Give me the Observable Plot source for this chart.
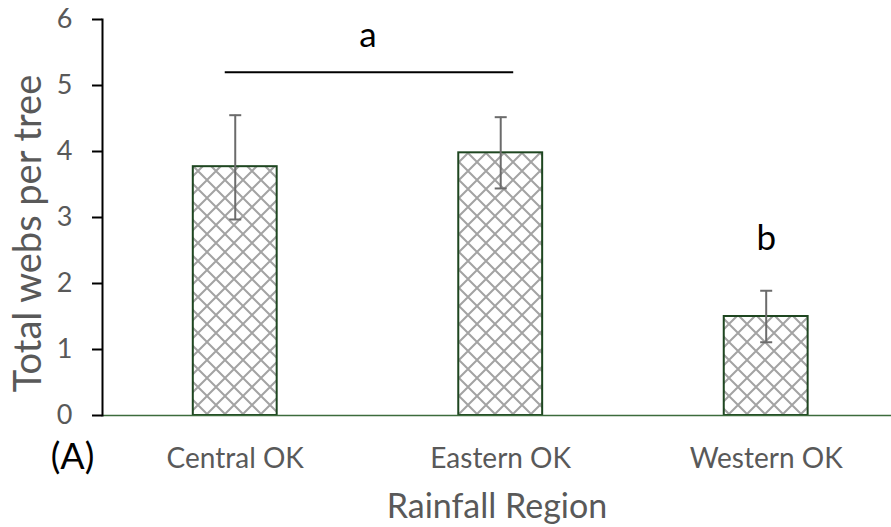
<!DOCTYPE html>
<html><head><meta charset="utf-8">
<script src="https://cdn.jsdelivr.net/npm/d3@7"></script>
<script src="https://cdn.jsdelivr.net/npm/@observablehq/plot@0.6"></script>
<style>body{margin:0;background:#fff} svg{display:block}</style>
</head><body><div id="chart"></div>
<script>
// ---- data ----
const regions = ["Central OK", "Eastern OK", "Western OK"];
const meanWebs = [3.77, 3.98, 1.50];
const errLow = [2.97, 3.44, 1.11];
const errHigh = [4.55, 4.52, 1.89];
const yTicks = [0, 1, 2, 3, 4, 5, 6];
// significance groups: letter, first and last member, bracket level, letter level
const sigLetters = ["a", "b"];
const sigFirst = ["Central OK", "Western OK"];
const sigLast = ["Eastern OK", "Western OK"];
const sigBracketY = [5.2, null];
const sigLetterY = [5.76, 2.68];
const panelLabel = "(A)";
const xTitle = "Rainfall Region";
const yTitle = "Total webs per tree";

// ---- derived tables ----
const bars = regions.map((r, i) => ({i, region: r, mean: meanWebs[i], lo: errLow[i], hi: errHigh[i]}));
const sig = sigLetters.map((l, k) => ({
  letter: l,
  a: regions.indexOf(sigFirst[k]),
  b: regions.indexOf(sigLast[k]),
  by: sigBracketY[k],
  ly: sigLetterY[k]
}));
const brackets = sig.filter(d => d.by != null && d.a !== d.b);

const halfBar = 0.158;   // bar half-width in category units
const grey = "#595959";
const font = "Lato, 'Open Sans', sans-serif";

const capSymbol = {draw(ctx, size) { const w = Math.sqrt(size / Math.PI); ctx.moveTo(-w, 0); ctx.lineTo(w, 0); }};

const defs = () => {
  const d = d3.create("svg:defs");
  const p = d.append("pattern").attr("id", "crosshatch").attr("patternUnits", "userSpaceOnUse")
    .attr("width", 18).attr("height", 18);
  p.append("rect").attr("width", 18).attr("height", 18).attr("fill", "white");
  p.append("path").attr("d", "M0,9L9,0L18,9L9,18Z").attr("fill", "none")
    .attr("stroke", "#a3a3a3").attr("stroke-width", 2);
  return d.node();
};

const chart = Plot.plot({
  width: 891,
  height: 527,
  marginLeft: 102,
  marginRight: 0,
  marginTop: 19,
  marginBottom: 112,
  style: {fontFamily: font, background: "white", overflow: "visible"},
  x: {type: "linear", domain: [-0.5, 2.472], axis: null},
  y: {domain: [0, 6], axis: null},
  marks: [
    defs,
    Plot.rectY(bars, {x1: d => d.i - halfBar, x2: d => d.i + halfBar, y1: 0, y2: "mean",
      fill: "url(#crosshatch)", stroke: "#1e4620", strokeWidth: 2}),
    Plot.ruleY([0], {stroke: "#3c6b3c", strokeWidth: 1.5}),
    Plot.frame({anchor: "left", stroke: "black", strokeWidth: 2}),
    Plot.axisY({ticks: yTicks, tickSize: 10, tickPadding: 20, stroke: "black", strokeWidth: 2,
      fill: grey, fontSize: 27, label: null, tickFormat: d => d}),
    Plot.axisX({ticks: [0, 1, 2], tickFormat: i => regions[i], tickSize: 0, tickPadding: 33,
      fill: grey, fontSize: 28, label: null}),
    Plot.ruleX(bars, {x: "i", y1: "lo", y2: "hi", stroke: "#6b6b6b", strokeWidth: 2}),
    Plot.dot(bars, {x: "i", y: "lo", symbol: capSymbol, r: 6, stroke: "#6b6b6b", strokeWidth: 2}),
    Plot.dot(bars, {x: "i", y: "hi", symbol: capSymbol, r: 6, stroke: "#6b6b6b", strokeWidth: 2}),
    Plot.ruleY(brackets, {x1: "a", x2: "b", y: "by", insetLeft: -10, insetRight: -13, stroke: "black", strokeWidth: 2}),
    Plot.text(sig, {x: d => (d.a + d.b) / 2, y: "ly", text: "letter", fontSize: 35, fill: "black"}),
    Plot.text([yTitle], {frameAnchor: "left", textAnchor: "middle", rotate: -90, dx: -74, dy: 16, fontSize: 38, fill: grey}),
    Plot.text([xTitle], {frameAnchor: "bottom", dy: 102, fontSize: 34, fill: grey}),
    Plot.text([panelLabel], {frameAnchor: "bottom-left", textAnchor: "middle", dx: -30, dy: 53, fontSize: 36, fill: "black"})
  ]
});
document.getElementById("chart").appendChild(chart);
</script>
</body></html>
